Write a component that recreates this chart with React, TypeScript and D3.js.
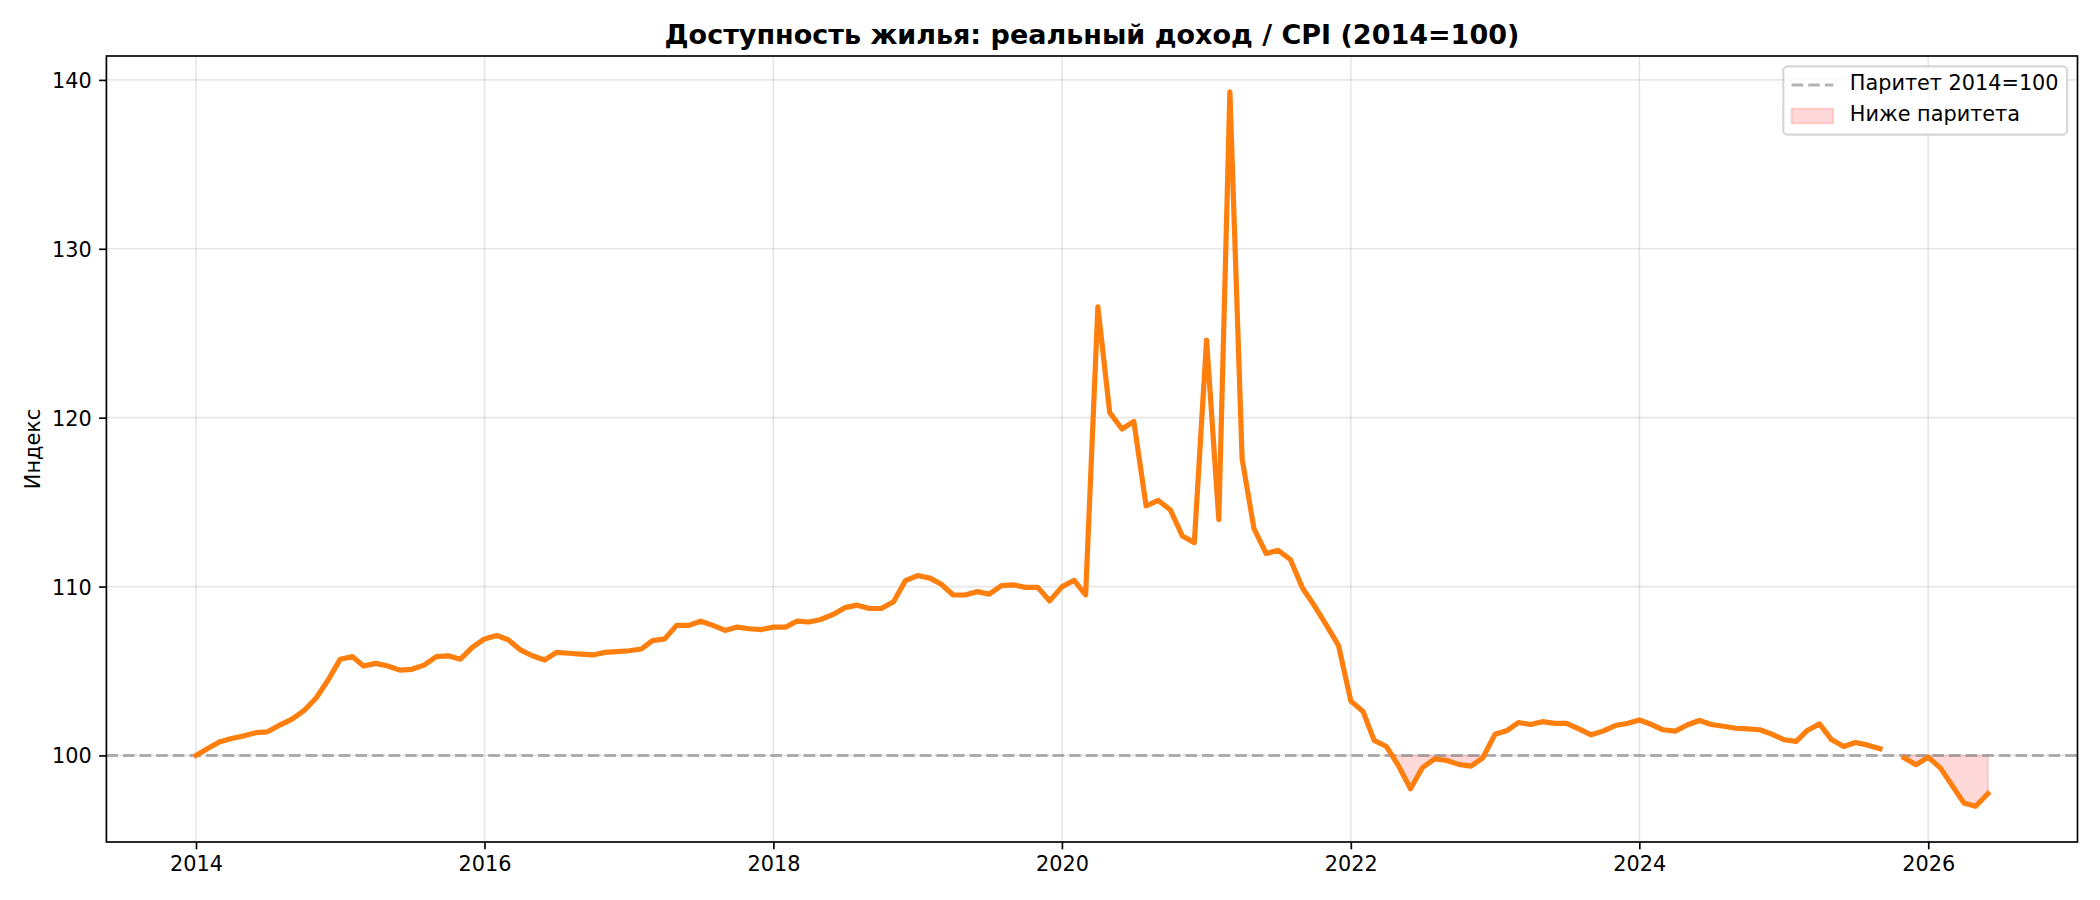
import React, { useEffect, useRef } from 'react';
import * as d3 from 'd3';

// monthly series, Jan 2014 .. Jun 2026 (null = missing month)
const startMonth = new Date(2014, 0, 1);
const affordability: (number | null)[] = [
    // 2014
    100.0, 100.43, 100.8, 101.0, 101.15, 101.35, 101.4, 101.8, 102.15, 102.65, 103.4, 104.45,
    // 2015
    105.7, 105.85, 105.3, 105.45, 105.3, 105.05, 105.1, 105.35, 105.85, 105.9, 105.7, 106.4,
    // 2016
    106.9, 107.1, 106.85, 106.25, 105.9, 105.65, 106.1, 106.05, 106.0, 105.95, 106.1, 106.15,
    // 2017
    106.2, 106.3, 106.8, 106.9, 107.7, 107.7, 107.95, 107.7, 107.4, 107.6, 107.5, 107.45,
    // 2018
    107.6, 107.6, 107.95, 107.9, 108.05, 108.35, 108.75, 108.9, 108.7, 108.7, 109.1, 110.35,
    // 2019
    110.65, 110.5, 110.15, 109.5, 109.5, 109.7, 109.55, 110.05, 110.1, 109.95, 109.95, 109.15,
    // 2020
    109.98, 110.37, 109.5, 126.56, 120.3, 119.33, 119.78, 114.78, 115.1, 114.55, 112.99, 112.6,
    // 2021
    124.6, 113.96, 139.3, 117.56, 113.43, 111.95, 112.15, 111.6, 109.9, 108.86, 107.68, 106.5,
    // 2022
    103.22, 102.6, 100.89, 100.53, 99.41, 98.03, 99.27, 99.8, 99.7, 99.47, 99.37, 99.86,
    // 2023
    101.26, 101.48, 101.95, 101.83, 102.0, 101.9, 101.9, 101.57, 101.22, 101.44, 101.77, 101.89,
    // 2024
    102.1, 101.83, 101.52, 101.44, 101.8, 102.07, 101.83, 101.73, 101.61, 101.57, 101.52, 101.26,
    // 2025
    100.93, 100.83, 101.48, 101.87, 100.94, 100.53, 100.77, 100.61, 100.39, null, 99.86, 99.45,
    // 2026
    99.9, 99.25, 98.27, 97.19, 96.99, 97.74,
];
const parity = 100;

const title = 'Доступность жилья: реальный доход / CPI (2014=100)';
const yLabel = 'Индекс';
const legendLabels = ['Паритет 2014=100', 'Ниже паритета'];

const W = 2100;
const H = 900;
const box = { left: 106.4, right: 2077.5, top: 56, bottom: 842 };
const FONT = '"DejaVu Sans", sans-serif';
const ORANGE = '#ff7f0e';

interface Pt { date: Date; v: number }

const App: React.FC = () => {
    const svgRef = useRef<SVGSVGElement>(null);

    useEffect(() => {
        if (!svgRef.current) return;
        const svg = d3.select(svgRef.current);
        svg.selectAll('*').remove();

        const dates = affordability.map((_, i) => d3.timeMonth.offset(startMonth, i));
        const data = dates.map((date, i) => ({ date, v: affordability[i] }));

        // matplotlib-like 5% margins
        const t0 = +dates[0], t1 = +dates[dates.length - 1];
        const tPad = (t1 - t0) * 0.05;
        const x = d3.scaleTime()
            .domain([new Date(t0 - tPad), new Date(t1 + tPad)])
            .range([box.left, box.right]);

        const vals = affordability.filter((v): v is number => v != null);
        const [vMin, vMax] = d3.extent(vals) as [number, number];
        const vPad = (vMax - vMin) * 0.05;
        const y = d3.scaleLinear()
            .domain([vMin - vPad, vMax + vPad])
            .range([box.bottom, box.top]);

        const xTicks = x.ticks(d3.timeYear.every(2)!);
        const yTicks = y.ticks(5);

        svg.append('defs').append('clipPath').attr('id', 'plot-clip')
            .append('rect')
            .attr('x', box.left).attr('y', box.top)
            .attr('width', box.right - box.left).attr('height', box.bottom - box.top);

        const plot = svg.append('g').attr('clip-path', 'url(#plot-clip)');

        // below-parity fill (interpolated crossings, broken at gaps)
        const segments: Pt[][] = [];
        let cur: Pt[] | null = null;
        data.forEach((d, i) => {
            if (d.v == null) {
                if (cur) { segments.push(cur); cur = null; }
                return;
            }
            const prev = i > 0 ? data[i - 1] : null;
            if (prev && prev.v != null && (prev.v < parity) !== (d.v < parity)) {
                const f = (parity - prev.v) / (d.v - prev.v);
                const cross = { date: new Date(+prev.date + f * (+d.date - +prev.date)), v: parity };
                if (cur) { cur.push(cross); segments.push(cur); cur = null; }
                else cur = [cross];
            }
            if (d.v < parity) {
                if (!cur) cur = [];
                cur.push({ date: d.date, v: d.v });
            }
        });
        if (cur) segments.push(cur);

        const area = d3.area<Pt>()
            .x(d => x(d.date))
            .y0(y(parity))
            .y1(d => y(d.v));

        plot.selectAll('path.below')
            .data(segments)
            .join('path')
            .attr('class', 'below')
            .attr('d', area)
            .attr('fill', 'rgba(255,0,0,0.15)')
            .attr('stroke', 'rgba(255,0,0,0.15)')
            .attr('stroke-width', 2);

        // grid
        plot.selectAll('line.gx')
            .data(xTicks)
            .join('line')
            .attr('class', 'gx')
            .attr('x1', d => x(d)).attr('x2', d => x(d))
            .attr('y1', box.top).attr('y2', box.bottom)
            .attr('stroke', '#b0b0b0').attr('stroke-opacity', 0.3).attr('stroke-width', 1.67);
        plot.selectAll('line.gy')
            .data(yTicks)
            .join('line')
            .attr('class', 'gy')
            .attr('x1', box.left).attr('x2', box.right)
            .attr('y1', d => y(d)).attr('y2', d => y(d))
            .attr('stroke', '#b0b0b0').attr('stroke-opacity', 0.3).attr('stroke-width', 1.67);

        // parity line
        plot.append('line')
            .attr('x1', box.left).attr('x2', box.right)
            .attr('y1', y(parity)).attr('y2', y(parity))
            .attr('stroke', 'gray').attr('stroke-opacity', 0.6)
            .attr('stroke-width', 3.1)
            .attr('stroke-dasharray', '11.6 5');

        // main series
        const line = d3.line<{ date: Date; v: number | null }>()
            .defined(d => d.v != null)
            .x(d => x(d.date))
            .y(d => y(d.v as number));

        plot.append('path')
            .datum(data)
            .attr('d', line)
            .attr('fill', 'none')
            .attr('stroke', ORANGE)
            .attr('stroke-width', 5.2)
            .attr('stroke-linejoin', 'round')
            .attr('stroke-linecap', 'square');

        // axes
        const xAxis = svg.append('g')
            .attr('transform', `translate(0,${box.bottom})`)
            .call(d3.axisBottom(x)
                .tickValues(xTicks)
                .tickFormat(d3.timeFormat('%Y') as any)
                .tickSize(7.3)
                .tickPadding(7.4));
        const yAxis = svg.append('g')
            .attr('transform', `translate(${box.left},0)`)
            .call(d3.axisLeft(y).tickValues(yTicks).tickSize(7.3).tickPadding(7.3));

        [xAxis, yAxis].forEach(g => {
            g.select('.domain').remove();
            g.selectAll('.tick line').attr('stroke', '#000').attr('stroke-width', 1.67);
            g.selectAll('.tick text')
                .attr('fill', '#000')
                .attr('font-family', FONT)
                .attr('font-size', 20.8);
        });
        yAxis.selectAll('.tick text').attr('dy', '0.36em');

        // frame
        svg.append('rect')
            .attr('x', box.left).attr('y', box.top)
            .attr('width', box.right - box.left).attr('height', box.bottom - box.top)
            .attr('fill', 'none')
            .attr('stroke', '#000')
            .attr('stroke-width', 1.67);

        // title and label
        svg.append('text')
            .attr('x', (box.left + box.right) / 2)
            .attr('y', 43.5)
            .attr('text-anchor', 'middle')
            .attr('font-family', FONT)
            .attr('font-weight', 'bold')
            .attr('font-size', 27)
            .attr('fill', '#000')
            .text(title);

        svg.append('text')
            .attr('transform', `translate(33,${(box.top + box.bottom) / 2}) rotate(-90)`)
            .attr('text-anchor', 'middle')
            .attr('dominant-baseline', 'central')
            .attr('font-family', FONT)
            .attr('font-size', 20.8)
            .attr('fill', '#000')
            .text(yLabel);

        // legend
        const lgW = 283.8, lgH = 68.2;
        const legend = svg.append('g')
            .attr('transform', `translate(${box.right - 10.4 - lgW},${box.top + 10.4})`);
        legend.append('rect')
            .attr('width', lgW).attr('height', lgH)
            .attr('rx', 4.2).attr('ry', 4.2)
            .attr('fill', '#fff').attr('fill-opacity', 0.8)
            .attr('stroke', '#cccccc').attr('stroke-opacity', 0.8)
            .attr('stroke-width', 2.08);
        legend.append('line')
            .attr('x1', 8.3).attr('x2', 49.9)
            .attr('y1', 18.6).attr('y2', 18.6)
            .attr('stroke', 'gray').attr('stroke-opacity', 0.6)
            .attr('stroke-width', 3.1)
            .attr('stroke-dasharray', '11.6 5');
        legend.append('rect')
            .attr('x', 8.3).attr('y', 42.3)
            .attr('width', 41.6).attr('height', 14.6)
            .attr('fill', 'rgba(255,0,0,0.15)')
            .attr('stroke', 'rgba(255,0,0,0.15)')
            .attr('stroke-width', 2);
        legend.selectAll('text.lg')
            .data(legendLabels)
            .join('text')
            .attr('class', 'lg')
            .attr('x', 66.5)
            .attr('y', (_, i) => 24 + i * 31)
            .attr('font-family', FONT)
            .attr('font-size', 20.8)
            .attr('fill', '#000')
            .text(d => d);
    }, []);

    return (
        <div style={{ position: 'absolute', left: 0, top: 0, width: W, height: H, background: '#fff' }}>
            <svg ref={svgRef} width={W} height={H} viewBox={`0 0 ${W} ${H}`} />
        </div>
    );
};

export default App;
